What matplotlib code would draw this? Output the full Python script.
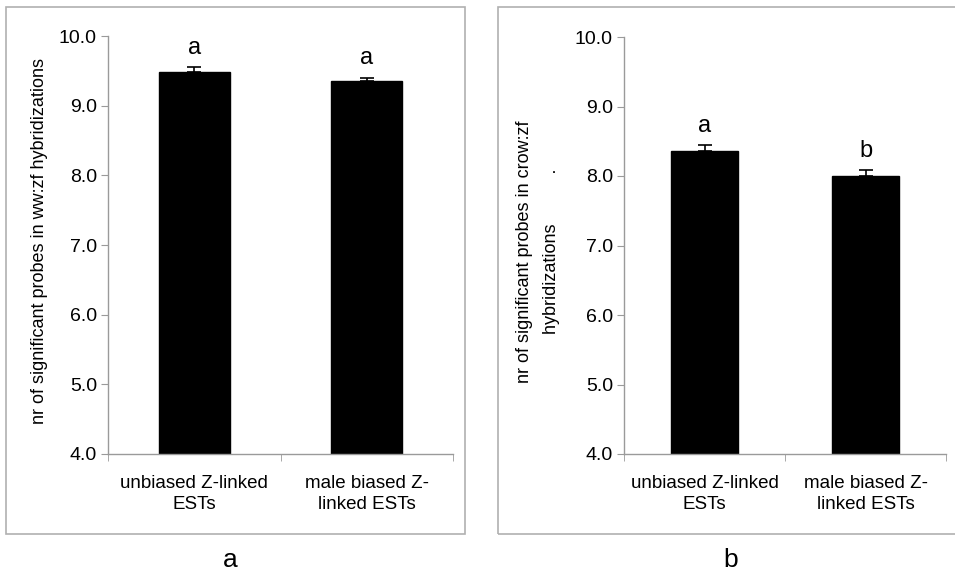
import matplotlib
matplotlib.use("Agg")
import matplotlib.pyplot as plt
from matplotlib.patches import Rectangle

plt.rcParams["font.family"] = ["Liberation Sans", "DejaVu Sans"]

categories = ["unbiased Z-linked\nESTs", "male biased Z-\nlinked ESTs"]
ww_means = [9.49, 9.35]
ww_err = [0.06, 0.05]
ww_letters = ["a", "a"]
crow_means = [8.36, 8.00]
crow_err = [0.08, 0.08]
crow_letters = ["a", "b"]
yticks = [4.0, 5.0, 6.0, 7.0, 8.0, 9.0, 10.0]

W, H = 955, 571
fig = plt.figure(figsize=(W / 100, H / 100), dpi=100)
fig.patch.set_facecolor("white")

GREY = "#9a9a9a"


def px_axes(x0, y_top, x1, y_bot):
    return fig.add_axes([x0 / W, 1 - y_bot / H, (x1 - x0) / W, (y_bot - y_top) / H])


def draw_panel(ax, means, errs, letters, ylabel, label_x, label_y):
    xs = range(len(means))
    ax.bar(xs, means, width=0.41, color="black", edgecolor="black")
    ax.errorbar(xs, means, yerr=[[0] * len(errs), errs], fmt="none",
                ecolor="black", elinewidth=1.2, capsize=5, capthick=1.2)
    for x, m, e, t in zip(xs, means, errs, letters):
        ax.text(x, m + e + 0.12, t, ha="center", va="bottom", fontsize=17)
    ax.set_xlim(-0.5, len(means) - 0.5)
    ax.set_ylim(4.0, 10.0)
    ax.set_yticks(yticks)
    ax.set_yticklabels([f"{v:.1f}" for v in yticks], fontsize=14)
    ax.set_xticks(list(xs))
    ax.set_xticklabels(categories, fontsize=13.5, linespacing=1.35)
    ax.set_xticks([-0.5, 0.5, 1.5], minor=True)
    ax.tick_params(axis="x", which="major", length=0, pad=15)
    ax.tick_params(axis="x", which="minor", length=5, color=GREY, direction="out")
    ax.tick_params(axis="y", length=5, color=GREY, direction="out", pad=3)
    for s in ["top", "right"]:
        ax.spines[s].set_visible(False)
    for s in ["left", "bottom"]:
        ax.spines[s].set_color(GREY)
        ax.spines[s].set_linewidth(1.0)
    ax.set_ylabel(ylabel, fontsize=13, linespacing=1.8)
    ax.yaxis.set_label_coords(label_x, label_y)


# outer frames
fig.patches.append(Rectangle((6 / W, 1 - 534 / H), (465 - 6) / W, (534 - 7) / H,
                             transform=fig.transFigure, fill=False,
                             edgecolor="#b0b0b0", linewidth=1.2))
fig.patches.append(Rectangle((498 / W, 1 - 534 / H), (962 - 498) / W, (534 - 7) / H,
                             transform=fig.transFigure, fill=False,
                             edgecolor="#b0b0b0", linewidth=1.2))

ax1 = px_axes(108, 36, 453, 454)
draw_panel(ax1, ww_means, ww_err, ww_letters,
           "nr of significant probes in ww:zf hybridizations", -0.174, 0.51)

ax2 = px_axes(624, 37, 946, 454)
draw_panel(ax2, crow_means, crow_err, crow_letters,
           "nr of significant probes in crow:zf\nhybridizations          .", -0.199, 0.485)

fig.text(230 / W, 1 - 560 / H, "a", ha="center", va="center", fontsize=19)
fig.text(731 / W, 1 - 560 / H, "b", ha="center", va="center", fontsize=19)

fig.savefig("out.png", dpi=100)
